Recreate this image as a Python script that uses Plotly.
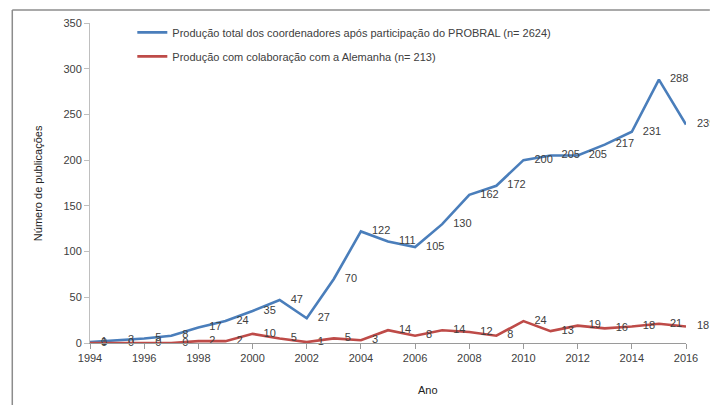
import plotly.graph_objects as go

anos = list(range(1994, 2017))
total_coord = [1, 3, 5, 8, 17, 24, 35, 47, 27, 70, 122, 111, 105, 130,
               162, 172, 200, 205, 205, 217, 231, 288, 239]
colab_alemanha = [0, 0, 0, 0, 2, 2, 10, 5, 1, 5, 3, 14, 8, 14,
                  12, 8, 24, 13, 19, 16, 18, 21, 18]
nome_total = "Produção total dos coordenadores após participação do PROBRAL (n= 2624)"
nome_colab = "Produção com colaboração com a Alemanha (n= 213)"

FONT = "Liberation Sans"
TXT = "#404040"

fig = go.Figure()
fig.add_trace(go.Scatter(
    x=anos, y=total_coord, name=nome_total, legendgroup="a",
    mode="lines+markers+text", text=[str(v) for v in total_coord],
    textposition="middle right", textfont=dict(family=FONT, size=11, color=TXT),
    line=dict(color="#4A7EBB", width=2.6),
    marker=dict(size=16, color="rgba(0,0,0,0)"),
    cliponaxis=False, hoverinfo="x+y",
))
fig.add_trace(go.Scatter(
    x=anos, y=colab_alemanha, name=nome_colab, legendgroup="b",
    mode="lines+markers+text", text=[str(v) for v in colab_alemanha],
    textposition="middle right", textfont=dict(family=FONT, size=11, color=TXT),
    line=dict(color="#BE4B48", width=2.6),
    marker=dict(size=16, color="rgba(0,0,0,0)"),
    cliponaxis=False, hoverinfo="x+y",
))

fig.update_layout(
    width=710, height=405,
    margin=dict(l=90, r=22, t=23, b=62),
    plot_bgcolor="white", paper_bgcolor="white",
    font=dict(family=FONT, size=11, color=TXT),
    showlegend=True,
    legend=dict(x=0.071, y=1.016, xanchor="left", yanchor="top",
                bgcolor="rgba(0,0,0,0)", tracegroupgap=5,
                font=dict(family=FONT, size=11, color=TXT)),
    xaxis=dict(range=[1994, 2016], tickmode="linear", tick0=1994, dtick=2,
               showgrid=False, zeroline=False, showline=True, linecolor="#9A9A9A",
               linewidth=1, ticks="outside", ticklen=5, tickcolor="#9A9A9A",
               tickfont=dict(family=FONT, size=11, color=TXT)),
    yaxis=dict(range=[0, 350], tickmode="linear", tick0=0, dtick=50,
               showgrid=False, zeroline=False, showline=True, linecolor="#BFBFBF",
               linewidth=1, ticks="outside", ticklen=5, tickcolor="#BFBFBF",
               tickfont=dict(family=FONT, size=11, color=TXT)),
    annotations=[
        dict(text="Número de publicações", xref="paper", yref="paper",
             x=-0.087, y=0.5, xanchor="center", yanchor="middle", textangle=-90,
             showarrow=False, font=dict(family=FONT, size=11, color="#222222")),
        dict(text="Ano", xref="paper", yref="paper", x=0.567, y=-0.147,
             xanchor="center", yanchor="middle",
             showarrow=False, font=dict(family=FONT, size=11, color="#222222")),
    ],
    shapes=[
        dict(type="line", xref="paper", yref="paper", x0=-0.1304, x1=-0.1304,
             y0=1.0406, y1=-0.2, line=dict(color="#8C8C8C", width=1.5)),
        dict(type="line", xref="paper", yref="paper", x0=-0.1304, x1=1.04,
             y0=1.0406, y1=1.0406, line=dict(color="#8C8C8C", width=1.5)),
    ],
)

# drop the default body margin so the 710x405 figure fills the window
fig.write_html("out.html", config={"displayModeBar": False},
               post_script="document.body.style.margin = '0';")
